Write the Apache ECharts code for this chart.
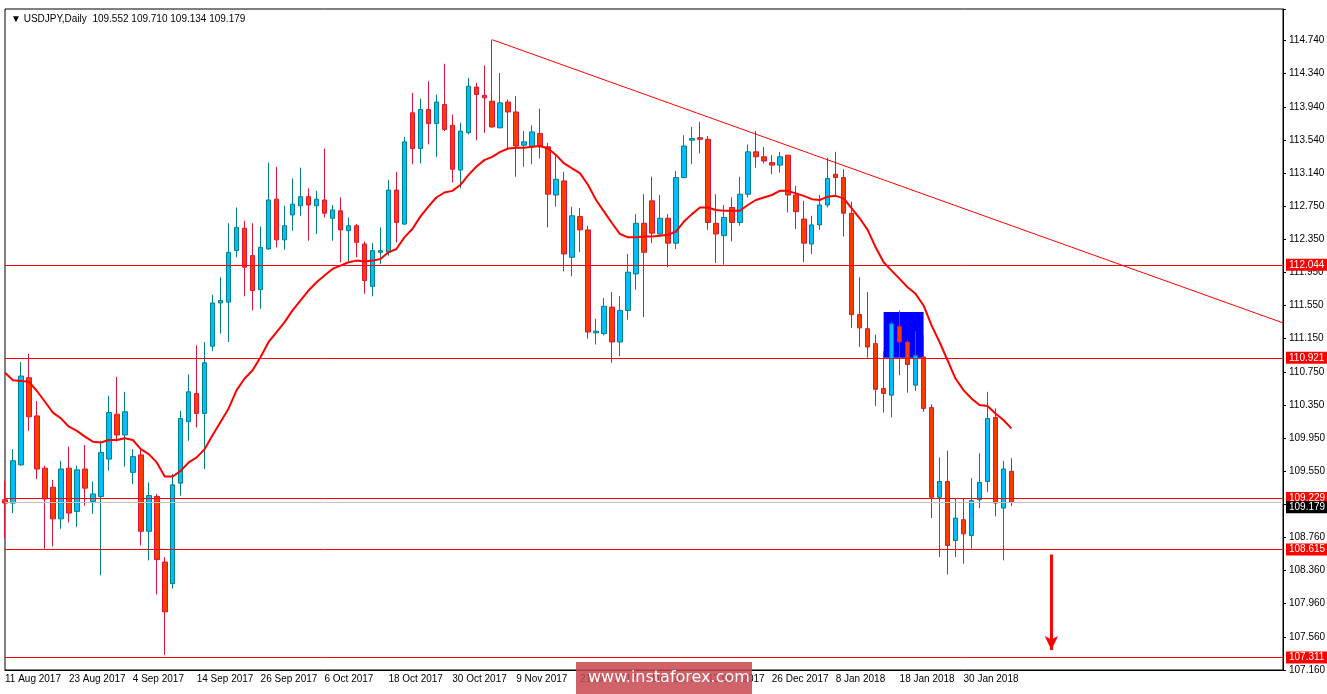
<!DOCTYPE html>
<html>
<head>
<meta charset="utf-8">
<script src="https://cdn.jsdelivr.net/npm/echarts@6/dist/echarts.min.js"></script>
<style>html,body{margin:0;padding:0;background:#fff}#chart{width:1327px;height:694px}</style>
</head>
<body>
<div id="chart"></div>
<script>
// USDJPY daily, values
var BASE = 107.16;
var opens  = [109.21,109.17,109.63,110.68,110.22,109.59,109.36,108.98,109.59,109.07,109.58,109.19,109.25,109.70,110.24,109.99,109.54,109.75,108.83,109.25,108.46,108.20,109.41,110.15,110.49,110.25,111.06,111.58,111.59,112.21,112.48,112.15,111.74,112.23,112.83,112.34,112.64,112.75,112.86,112.75,112.82,112.60,112.69,112.45,112.51,112.29,111.78,112.19,112.19,112.94,112.53,113.87,113.44,113.91,113.74,113.97,113.72,113.18,113.63,114.18,114.08,114.01,113.69,114.00,113.88,113.48,113.46,113.62,113.46,112.88,113.05,112.13,112.62,112.46,111.22,111.21,111.53,111.11,111.49,111.93,112.54,112.81,112.41,112.60,112.30,113.09,113.54,113.57,113.55,112.54,112.39,112.73,112.55,112.89,113.40,113.34,113.27,113.24,113.36,112.88,112.59,112.29,112.52,112.76,113.13,113.09,112.66,111.44,111.27,111.09,110.55,110.47,111.30,111.11,110.59,110.93,110.32,109.24,109.43,108.72,108.97,108.78,109.21,109.43,110.20,109.11,109.552];
var highs  = [109.44,109.82,110.87,110.97,110.40,109.62,109.45,109.68,109.85,109.62,109.87,109.43,109.92,110.46,110.69,110.51,109.82,109.82,109.42,109.28,108.52,109.52,110.28,110.72,111.07,111.11,111.68,111.89,112.54,112.73,112.57,112.54,112.50,113.27,113.22,112.75,113.08,113.21,112.96,112.93,113.44,112.76,112.85,112.61,112.53,112.32,112.30,112.49,113.06,113.16,113.58,114.11,114.04,114.25,114.09,114.46,113.85,113.75,114.29,114.23,114.44,114.75,114.35,114.03,114.07,113.65,113.72,113.92,113.51,113.35,113.16,112.74,112.72,112.51,111.39,111.64,111.71,111.66,112.17,112.65,112.89,113.10,112.88,112.65,113.17,113.60,113.70,113.76,113.59,112.89,112.76,112.85,113.10,113.49,113.65,113.46,113.36,113.40,113.36,112.99,112.81,112.63,112.88,113.33,113.40,113.19,112.80,111.89,111.71,111.20,111.00,111.36,111.49,111.14,111.24,111.19,110.36,109.72,109.80,109.23,109.23,109.47,109.77,110.51,110.31,109.68,109.710];
var lows   = [108.75,109.05,109.62,110.04,109.46,108.62,108.65,108.86,108.94,108.88,109.14,109.04,108.30,109.56,109.91,109.61,109.40,108.66,108.48,108.07,107.34,108.14,109.26,109.92,110.08,109.58,111.00,111.21,111.11,112.13,111.66,111.49,111.51,112.22,112.25,112.22,112.45,112.63,112.33,112.41,112.61,112.33,112.07,112.08,112.13,111.69,111.66,112.05,112.15,112.31,112.52,113.25,113.26,113.49,113.34,113.65,113.03,112.96,113.61,113.54,113.63,113.69,113.68,113.44,113.10,113.22,113.25,113.32,112.49,112.74,111.96,111.90,112.19,111.15,111.08,111.19,110.86,110.94,111.38,111.74,111.41,112.30,112.40,112.01,112.23,113.08,113.25,113.38,112.46,112.06,112.04,112.32,112.51,112.85,113.21,113.26,113.13,113.15,112.67,112.47,112.07,112.17,112.46,112.73,112.88,112.38,111.28,111.05,110.92,110.34,110.26,110.20,110.71,110.50,110.52,110.27,108.99,108.52,108.31,108.52,108.44,108.62,109.11,109.30,109.01,108.48,109.134];
var closes = [109.17,109.68,110.70,110.21,109.58,109.22,108.98,109.58,109.05,109.57,109.35,109.28,109.78,110.26,109.99,110.27,109.73,108.83,109.26,108.49,107.86,109.39,110.19,110.51,110.25,110.86,111.58,111.61,112.19,112.49,112.01,111.73,112.25,112.82,112.34,112.51,112.77,112.86,112.76,112.83,112.66,112.70,112.46,112.51,112.31,111.85,112.21,112.21,112.94,112.55,113.52,113.44,113.91,113.74,114.00,113.67,113.19,113.65,114.19,114.09,114.05,113.70,113.99,113.88,113.47,113.52,113.64,113.46,112.89,113.07,112.17,112.63,112.46,111.23,111.24,111.54,111.11,111.49,111.95,112.54,112.19,112.42,112.60,112.30,113.09,113.47,113.56,113.55,112.55,112.41,112.61,112.55,112.89,113.40,113.34,113.29,113.24,113.34,112.88,112.68,112.30,112.52,112.76,113.08,113.09,112.66,111.44,111.28,111.05,110.54,110.49,111.33,111.11,110.84,110.95,110.31,109.24,109.43,108.66,108.99,108.80,109.20,109.42,110.19,109.17,109.58,109.179];
var maValues = [110.74,110.65,110.64,110.63,110.52,110.39,110.26,110.19,110.09,110.04,109.97,109.91,109.90,109.93,109.93,109.95,109.93,109.82,109.76,109.66,109.49,109.49,109.56,109.66,109.72,109.82,109.99,110.15,110.31,110.53,110.67,110.77,110.93,111.11,111.23,111.35,111.49,111.61,111.73,111.83,111.91,111.99,112.03,112.07,112.09,112.08,112.09,112.11,112.19,112.23,112.37,112.47,112.62,112.74,112.85,112.91,112.93,113.00,113.12,113.22,113.30,113.34,113.40,113.44,113.45,113.45,113.46,113.47,113.44,113.36,113.26,113.20,113.14,113.00,112.82,112.68,112.54,112.41,112.37,112.37,112.38,112.38,112.39,112.40,112.44,112.56,112.65,112.73,112.73,112.70,112.69,112.69,112.69,112.76,112.82,112.85,112.88,112.93,112.93,112.90,112.87,112.83,112.82,112.86,112.87,112.84,112.72,112.60,112.46,112.25,112.07,111.97,111.87,111.77,111.69,111.55,111.31,111.11,110.89,110.67,110.53,110.43,110.35,110.34,110.25,110.17,110.07];
var dateTicks = ['11 Aug 2017','23 Aug 2017','4 Sep 2017','14 Sep 2017','26 Sep 2017','6 Oct 2017','18 Oct 2017','30 Oct 2017','9 Nov 2017','21 Nov 2017','1 Dec 2017','13 Dec 2017','26 Dec 2017','8 Jan 2018','18 Jan 2018','30 Jan 2018'];
var priceTicks = ['107.160','107.560','107.960','108.360','108.760','109.150','109.550','109.950','110.350','110.750','111.150','111.550','111.950','112.350','112.750','113.140','113.540','113.940','114.340','114.740'];
var levels = [112.044, 110.921, 109.229, 108.615, 107.311];
var lastPrice = 109.179;
var trendFrom = [61, 114.75], trendTo = [160, 111.34];
var boxFrom = [110, 111.47], boxTo = [115, 110.92];
var arrowFrom = [131, 108.55], arrowTo = [131, 107.40];

var TOTAL = 161, STEP = 0.39895;
var cats = [];
for (var i = 0; i < TOTAL; i++) cats.push(String(i));
var kdata = opens.map(function (o, i) {
  return [o - BASE, closes[i] - BASE, lows[i] - BASE, highs[i] - BASE];
});
var ma = maValues.map(function (v) { return v - BASE; });

var tagFont = { fontSize: 10, fontFamily: 'Liberation Sans', color: '#fff', padding: [1, 3], distance: 3 };
var levelLines = levels.map(function (v) {
  return {
    yAxis: v - BASE,
    lineStyle: { color: '#ff0000', width: 1, type: 'solid' },
    label: Object.assign({ show: true, position: 'end', formatter: v.toFixed(3), backgroundColor: '#ff0000' }, tagFont)
  };
});
levelLines.push({
  yAxis: lastPrice - BASE,
  lineStyle: { color: '#c0c0c0', width: 1, type: 'solid' },
  label: Object.assign({ show: true, position: 'end', formatter: lastPrice.toFixed(3), backgroundColor: '#000', offset: [0, 5] }, tagFont)
});
levelLines.push([
  { coord: [trendFrom[0], trendFrom[1] - BASE], lineStyle: { color: '#ff0000', width: 1, type: 'solid' }, label: { show: false } },
  { coord: [trendTo[0], trendTo[1] - BASE] }
]);

var myChart = echarts.init(document.getElementById('chart'));
var option = {
  animation: false,
  backgroundColor: '#fff',
  textStyle: { fontFamily: 'Liberation Sans' },
  title: {
    text: '\u25BC USDJPY,Daily  109.552 109.710 109.134 109.179',
    left: 6, top: 9,
    textStyle: { fontSize: 10, fontWeight: 'normal', color: '#000', fontFamily: 'Liberation Sans' }
  },
  grid: { left: 5, right: 44, top: 9, bottom: 24, show: true, borderColor: '#000', borderWidth: 1, outerBoundsMode: 'none', containLabel: false },
  xAxis: {
    type: 'category', data: cats, boundaryGap: false,
    axisLine: { lineStyle: { color: '#000' } },
    axisTick: { show: false },
    axisLabel: {
      interval: 7, align: 'left', margin: 4, fontSize: 10, color: '#000', showMinLabel: true,
      formatter: function (v, idx) { return dateTicks[idx / 8] || ''; }
    },
    splitLine: { show: false }
  },
  yAxis: {
    type: 'value', position: 'right', min: 0, max: 7.96, interval: STEP,
    axisLine: { show: true, lineStyle: { color: '#000' } },
    axisTick: { show: true, length: 3, lineStyle: { color: '#000' } },
    axisLabel: {
      fontSize: 10, color: '#000', margin: 6,
      formatter: function (v) { return priceTicks[Math.round(v / STEP)] || ''; }
    },
    splitLine: { show: false }
  },
  series: [
    {
      type: 'candlestick', data: kdata, barWidth: 5,
      itemStyle: { color: '#00bfff', color0: '#ff3c00', borderColor: '#008080', borderColor0: '#dc143c', borderWidth: 1 },
      markArea: {
        silent: true,
        itemStyle: { color: '#0000ff', opacity: 1 },
        data: [[{ coord: [boxFrom[0], boxFrom[1] - BASE] }, { coord: [boxTo[0], boxTo[1] - BASE] }]]
      },
      markLine: { silent: true, symbol: ['none', 'none'], animation: false, data: levelLines },
      z: 3
    },
    {
      type: 'line', data: ma, showSymbol: false, symbol: 'none',
      lineStyle: { color: '#ff0000', width: 2 }, z: 4,
      markLine: {
        silent: true, symbol: ['none', 'arrow'], symbolSize: [10, 14],
        data: [[{ coord: [arrowFrom[0], arrowFrom[1] - BASE], lineStyle: { color: '#ff0000', width: 3, type: 'solid' }, label: { show: false } },
                { coord: [arrowTo[0], arrowTo[1] - BASE] }]]
      }
    }
  ],
  graphic: [
    { type: 'rect', left: 576, top: 662, shape: { width: 176, height: 32 }, style: { fill: 'rgba(200,70,80,0.85)' }, z: 100 },
    { type: 'text', left: 588, top: 670, style: { text: 'www.instaforex.com', fill: '#fff', font: '16px DejaVu Sans' }, z: 101 }
  ]
};
myChart.setOption(option);
</script>
</body>
</html>
